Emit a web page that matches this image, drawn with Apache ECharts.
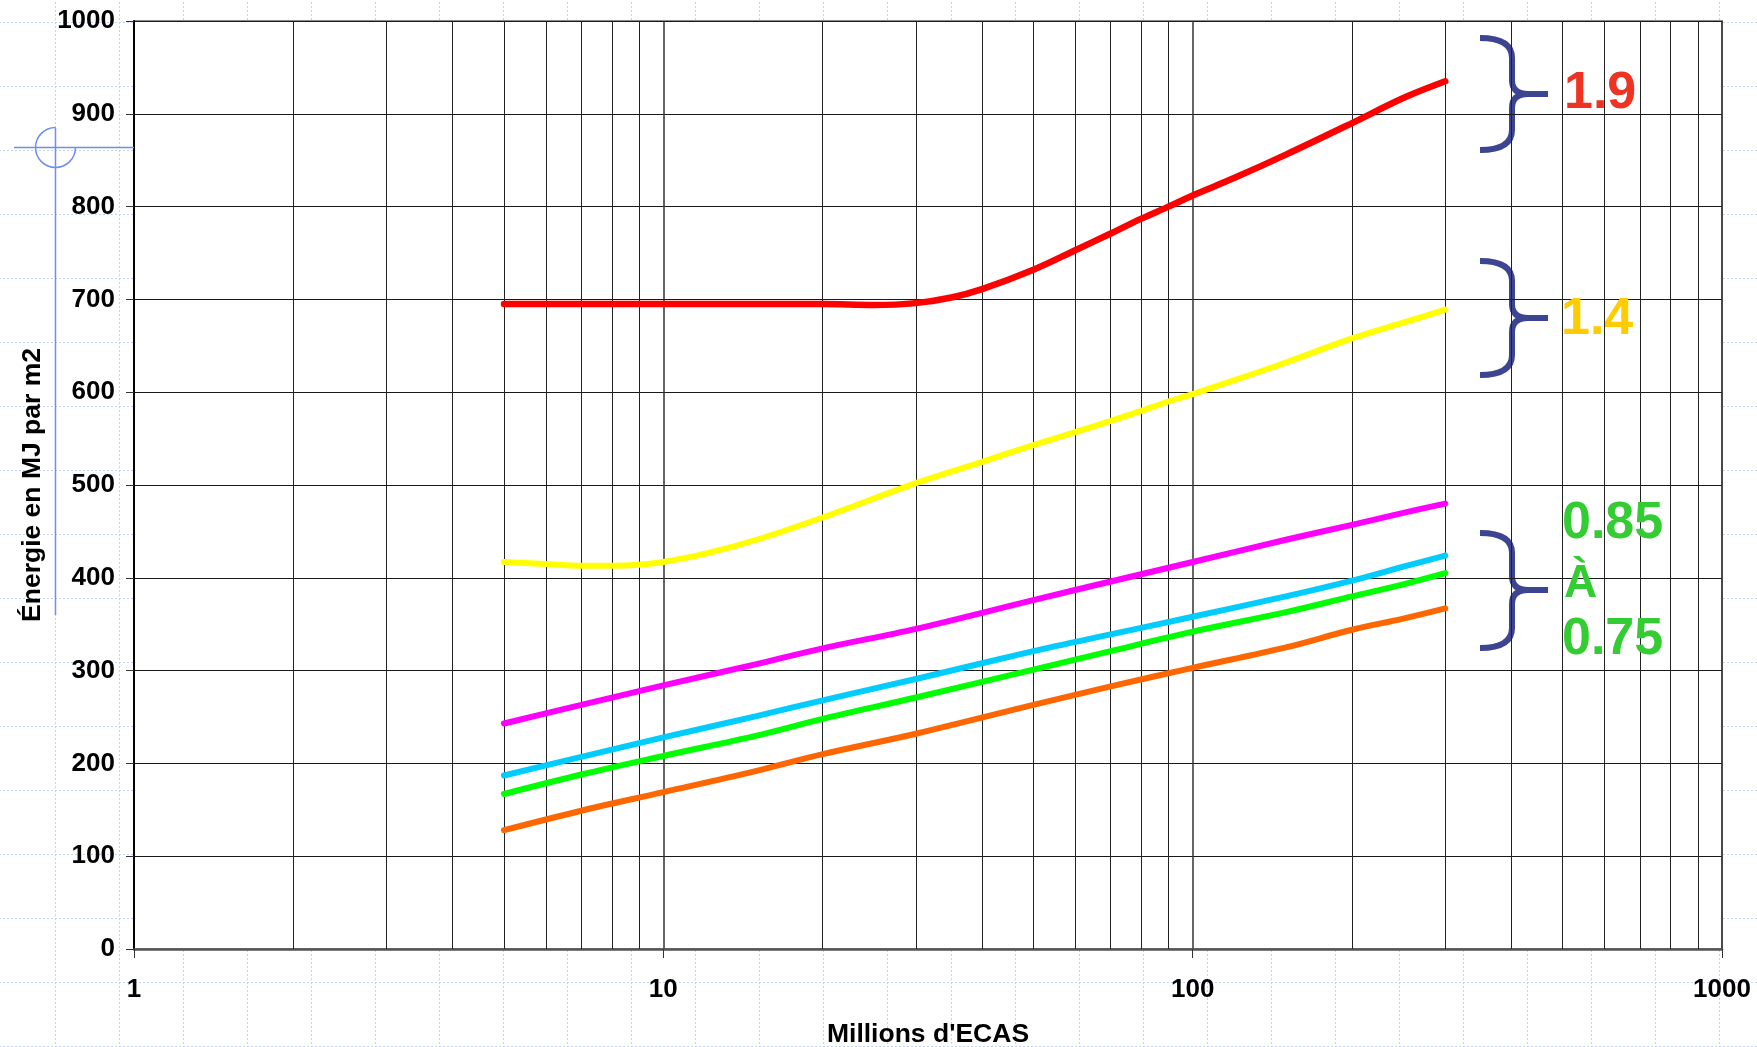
<!DOCTYPE html>
<html>
<head>
<meta charset="utf-8">
<script src="https://cdn.jsdelivr.net/npm/echarts@6/dist/echarts.min.js"></script>
<style>
  html, body { margin: 0; padding: 0; }
  body {
    width: 1757px; height: 1047px; overflow: hidden; background-color: #fff;
    background-image: url("data:image/svg+xml,%3Csvg xmlns='http://www.w3.org/2000/svg' width='64' height='64'%3E%3Cpath d='M0.5 0V64M0 0.5H64' stroke='%23c3d1f3' stroke-width='1' stroke-dasharray='2 2' fill='none'/%3E%3C/svg%3E");
    background-position: 55px 22px;
  }
  #chart { width: 1757px; height: 1047px; }
</style>
</head>
<body>
<div id="chart"></div>
<script>
// Energy per square metre versus millions of ECAS (log scale)
const xRed = [5, 10, 15, 20, 25, 30, 35, 40, 50, 60, 70, 80, 90, 100, 120, 150, 200, 250, 300];
const redY = [695, 695, 695, 695, 694, 696, 702, 711, 732, 753, 771, 787, 800, 812, 831, 856, 890, 917, 935];

const xYellow = [5, 6, 7, 8, 9, 10, 12, 15, 20, 30, 40, 50, 60, 70, 80, 90, 100, 120, 150, 200, 250, 300];
const yellowY = [417, 415, 413, 413, 414, 417, 426, 441, 465, 502, 525, 543, 557, 569, 580, 590, 598, 613, 632, 658, 675, 689];

const xLow = [5, 7, 10, 15, 20, 30, 50, 70, 100, 150, 200, 250, 300];
const magentaY = [243, 263, 284, 307, 324, 345, 376, 396, 417, 441, 457, 470, 480];
const cyanY    = [187, 207, 228, 251, 268, 291, 321, 339, 358, 380, 397, 412, 424];
const greenY   = [167, 188, 208, 230, 248, 271, 301, 321, 342, 363, 380, 393, 405];
const orangeY  = [128, 149, 169, 192, 210, 232, 263, 283, 303, 325, 344, 356, 367];

// minor vertical grid positions of the log axis
const minorX = [2, 3, 4, 5, 6, 7, 8, 9, 20, 30, 40, 50, 60, 70, 80, 90, 200, 300, 400, 500, 600, 700, 800, 900];

// bracket annotations
const groupLabels = ['1.9', '1.4', '0.85', 'À', '0.75'];

function pairs(xs, ys) { return xs.map((x, i) => [x, ys[i]]); }

function curve(name, xs, ys, color, width) {
  return {
    name: name, type: 'line', data: pairs(xs, ys), smooth: 0.35,
    showSymbol: false, symbol: 'none', z: 5, silent: true,
    lineStyle: { color: color, width: width, cap: 'round', join: 'round' }
  };
}

// curly brace "}" made of quadratic curves and straight strokes
function brace(top, mid, bottom) {
  const a = 1480, s = 1512, t = 1548;
  const st = { fill: null, stroke: '#3d4590', lineWidth: 6, lineCap: 'butt' };
  const q = (x1, y1, cx, cy, x2, y2) => ({ type: 'bezierCurve', shape: { x1: x1, y1: y1, cpx1: cx, cpy1: cy, x2: x2, y2: y2 }, style: st });
  const l = (x1, y1, x2, y2) => ({ type: 'line', shape: { x1: x1, y1: y1, x2: x2, y2: y2 }, style: st });
  return {
    type: 'group', z: 100,
    children: [
      q(a, top, s, top, s, top + 20),
      l(s, top + 20, s, mid - 14),
      q(s, mid - 14, s, mid, s + 16, mid),
      l(s + 16, mid, t, mid),
      q(s + 16, mid, s, mid, s, mid + 14),
      l(s, mid + 14, s, bottom - 20),
      q(s, bottom - 20, s, bottom, a, bottom)
    ]
  };
}

function label(text, x, y, color, size) {
  return {
    type: 'text', z: 100, x: x, y: y,
    style: {
      text: text, fill: color, font: 'bold ' + size + 'px "Liberation Sans", Arial, sans-serif',
      textAlign: 'left', textVerticalAlign: 'middle'
    }
  };
}

const labelFont = '"Liberation Sans", Arial, sans-serif';

const chart = echarts.init(document.getElementById('chart'), null, { renderer: 'canvas' });
chart.setOption({
  animation: false,
  backgroundColor: 'transparent',
  grid: {
    left: 134, right: 35, top: 21, bottom: 98,
    containLabel: false, outerBoundsMode: 'none',
    show: true, backgroundColor: '#ffffff', borderColor: '#8a8a8a', borderWidth: 2
  },
  xAxis: {
    type: 'log', logBase: 10, min: 1, max: 1000,
    name: "Millions d'ECAS", nameLocation: 'middle', nameGap: 72,
    nameTextStyle: { fontFamily: labelFont, fontWeight: 'bold', fontSize: 26.5, color: '#000' },
    axisLine: { show: true, lineStyle: { color: '#555', width: 2.5 } },
    axisTick: { show: true, length: 9, lineStyle: { color: '#333', width: 1 } },
    axisLabel: {
      margin: 28, fontFamily: labelFont, fontWeight: 'bold', fontSize: 26, color: '#000',
      formatter: v => String(Math.round(v))
    },
    splitLine: { show: true, lineStyle: { color: '#333', width: 1.5 } },
    minorTick: { show: false }, minorSplitLine: { show: false }
  },
  yAxis: {
    type: 'value', min: 0, max: 1000, interval: 100,
    name: 'Énergie en MJ par m2', nameLocation: 'middle', nameRotate: 90, nameGap: 84,
    nameTextStyle: { fontFamily: labelFont, fontWeight: 'bold', fontSize: 26.5, color: '#000' },
    axisLine: { show: true, lineStyle: { color: '#000', width: 2 } },
    axisTick: { show: true, length: 8, lineStyle: { color: '#333', width: 1 } },
    axisLabel: {
      margin: 19, fontFamily: labelFont, fontWeight: 'bold', fontSize: 26, color: '#000',
      formatter: v => String(v)
    },
    splitLine: { show: true, lineStyle: { color: '#1a1a1a', width: 1 } }
  },
  graphic: [
    // crosshair ornament on the left margin
    { type: 'line', z: 100, shape: { x1: 55.5, y1: 128, x2: 55.5, y2: 615 }, style: { stroke: '#6f8ef3', lineWidth: 1.5 } },
    { type: 'line', z: 100, shape: { x1: 14, y1: 147.5, x2: 134, y2: 147.5 }, style: { stroke: '#6f8ef3', lineWidth: 1.5 } },
    { type: 'arc', z: 100, shape: { cx: 55.5, cy: 147.5, r: 20, startAngle: 0, endAngle: Math.PI * 1.5, clockwise: true },
      style: { fill: null, stroke: '#6f8ef3', lineWidth: 1.5 } },
    brace(38, 94, 150),
    brace(261, 318, 375),
    brace(533, 590, 648),
    label(groupLabels[0], 1564, 94, '#ef3322', 52),
    label(groupLabels[1], 1561, 320, '#ffcc00', 52),
    label(groupLabels[2], 1562, 524, '#33cc33', 52),
    label(groupLabels[3], 1564, 584, '#33cc33', 46),
    label(groupLabels[4], 1562, 640, '#33cc33', 52)
  ],
  series: [
    {
      name: 'grille', type: 'line', data: [], silent: true, z: 1,
      markLine: {
        silent: true, symbol: ['none', 'none'], label: { show: false },
        lineStyle: { color: '#222', width: 1, type: 'solid' },
        emphasis: { disabled: true },
        data: minorX.map(v => ({ xAxis: v }))
      }
    },
    curve('1.9', xRed, redY, '#ff0000', 6.5),
    curve('1.4', xYellow, yellowY, '#ffff00', 6),
    curve('0.85 a', xLow, magentaY, '#ff00ff', 6),
    curve('0.85 b', xLow, cyanY, '#00ccff', 6),
    curve('0.80', xLow, greenY, '#00ff00', 6),
    curve('0.75', xLow, orangeY, '#ff6600', 6)
  ]
});
</script>
</body>
</html>
